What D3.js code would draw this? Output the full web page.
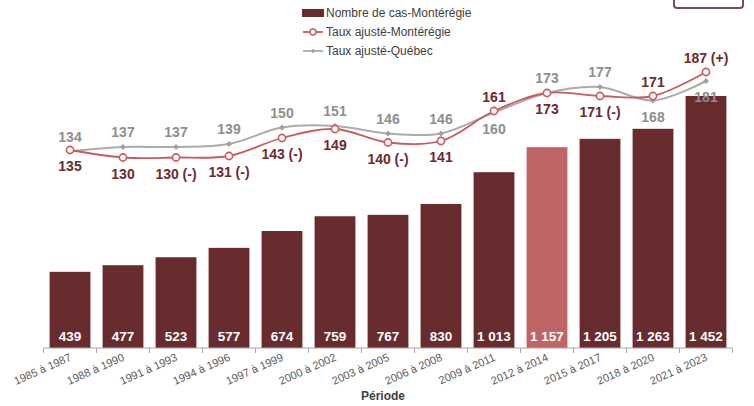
<!DOCTYPE html>
<html lang="fr">
<head>
<meta charset="utf-8">
<script src="https://cdn.jsdelivr.net/npm/d3@7"></script>
<style>
  body { margin: 0; background: #fff; }
  svg { display: block; font-family: "Liberation Sans", Arial, sans-serif; }
</style>
</head>
<body>
<div id="chart"></div>
<script>
// Données
const periodes = ['1985 à 1987', '1988 à 1990', '1991 à 1993', '1994 à 1996', '1997 à 1999',
  '2000 à 2002', '2003 à 2005', '2006 à 2008', '2009 à 2011', '2012 à 2014',
  '2015 à 2017', '2018 à 2020', '2021 à 2023'];
const nbCas = [439, 477, 523, 577, 674, 759, 767, 830, 1013, 1157, 1205, 1263, 1452];
const tauxMonteregie = [135, 130, 130, 131, 143, 149, 140, 141, 161, 173, 171, 171, 187];
const signifMonteregie = ['', '', ' (-)', ' (-)', ' (-)', '', ' (-)', '', '', '', ' (-)', '', ' (+)'];
const tauxQuebec = [134, 137, 137, 139, 150, 151, 146, 146, 160, 173, 177, 168, 181];
const periodeEnEvidence = '2012 à 2014';

// Position des étiquettes (au-dessus / en dessous)
const posMonteregie = ['bas', 'bas', 'bas', 'bas', 'bas', 'bas', 'bas', 'bas', 'haut', 'bas', 'bas', 'haut', 'haut'];
const posQuebec = ['haut', 'haut', 'haut', 'haut', 'haut', 'haut', 'haut', 'haut', 'bas', 'haut', 'haut', 'bas', 'bas'];

const W = 754, H = 406;
const couleurBarre = '#682B2E';
const couleurEvidence = '#C06565';
const couleurMont = '#C85C5C';
const couleurQc = '#ABABAB';

const fr = d3.formatLocale({ decimal: ',', thousands: '\u00a0', grouping: [3], currency: ['', ' $'] });
const fmt = fr.format(',d');

const svg = d3.select('#chart').append('svg')
  .attr('width', W)
  .attr('height', H);

// Échelles
const x = d3.scaleBand()
  .domain(periodes)
  .range([43.5, 732.5])
  .paddingInner(0.23)
  .paddingOuter(0.115);

const yCas = d3.scaleLinear()
  .domain([0, 1452])
  .range([348, 96]);

const yTaux = d3.scaleLinear()
  .domain([100, 200])
  .range([202.5, 52.5]);

// Barres
svg.selectAll('.barre')
  .data(periodes)
  .enter()
  .append('rect')
  .attr('x', d => x(d))
  .attr('y', (d, i) => yCas(nbCas[i]))
  .attr('width', x.bandwidth())
  .attr('height', (d, i) => yCas(0) - yCas(nbCas[i]))
  .attr('fill', d => d === periodeEnEvidence ? couleurEvidence : couleurBarre);

svg.selectAll('.val-barre')
  .data(periodes)
  .enter()
  .append('text')
  .attr('x', d => x(d) + x.bandwidth() / 2)
  .attr('y', 341)
  .attr('text-anchor', 'middle')
  .attr('fill', '#fff')
  .attr('font-size', 13.5)
  .attr('font-weight', 'bold')
  .text((d, i) => fmt(nbCas[i]));

// Axe X
const axe = svg.append('g')
  .attr('transform', `translate(0,${yCas(0)})`);

axe.append('line')
  .attr('x1', x.range()[0]).attr('x2', x.range()[1])
  .attr('stroke', '#A6A6A6');

const bornes = periodes.map(d => x(d) - x.step() * x.paddingInner() / 2);
bornes.push(x.range()[1]);
axe.selectAll('.tick')
  .data(bornes)
  .enter()
  .append('line')
  .attr('x1', d => d).attr('x2', d => d)
  .attr('y1', 0).attr('y2', 5)
  .attr('stroke', '#A6A6A6');

axe.selectAll('.lbl')
  .data(periodes)
  .enter()
  .append('text')
  .attr('transform', d => `translate(${x(d) + x.bandwidth() / 2 + 2},${12}) rotate(-24)`)
  .attr('text-anchor', 'end')
  .attr('font-size', 11)
  .attr('fill', '#595959')
  .text(d => d);

svg.append('text')
  .attr('x', 383)
  .attr('y', 400)
  .attr('text-anchor', 'middle')
  .attr('font-size', 12)
  .attr('font-weight', 'bold')
  .attr('fill', '#404040')
  .text('Période');

// Lignes
const cx = d => x(d) + x.bandwidth() / 2;
const ligne = vals => d3.line()
  .x(d => cx(d))
  .y((d, i) => yTaux(vals[i]))
  .curve(d3.curveCatmullRom.alpha(0.5));

svg.append('path')
  .datum(periodes)
  .attr('d', ligne(tauxQuebec))
  .attr('fill', 'none')
  .attr('stroke', couleurQc)
  .attr('stroke-width', 2);

svg.append('path')
  .datum(periodes)
  .attr('d', ligne(tauxMonteregie))
  .attr('fill', 'none')
  .attr('stroke', couleurMont)
  .attr('stroke-width', 1.8);

svg.selectAll('.pt-qc')
  .data(periodes)
  .enter()
  .append('path')
  .attr('d', d3.symbol(d3.symbolDiamond2, 22))
  .attr('transform', (d, i) => `translate(${cx(d)},${yTaux(tauxQuebec[i])})`)
  .attr('fill', '#A0A0A0');

svg.selectAll('.pt-mont')
  .data(periodes)
  .enter()
  .append('circle')
  .attr('cx', d => cx(d))
  .attr('cy', (d, i) => yTaux(tauxMonteregie[i]))
  .attr('r', 3.6)
  .attr('fill', '#fff')
  .attr('stroke', couleurMont)
  .attr('stroke-width', 1.6);

// Étiquettes des taux
svg.selectAll('.lbl-qc')
  .data(periodes)
  .enter()
  .append('text')
  .attr('x', d => cx(d))
  .attr('y', (d, i) => yTaux(tauxQuebec[i]) + (posQuebec[i] === 'haut' ? -10 : 21))
  .attr('text-anchor', 'middle')
  .attr('font-size', 14)
  .attr('font-weight', 'bold')
  .attr('fill', '#8E8E8E')
  .text((d, i) => tauxQuebec[i]);

svg.selectAll('.lbl-mont')
  .data(periodes)
  .enter()
  .append('text')
  .attr('x', d => cx(d))
  .attr('y', (d, i) => yTaux(tauxMonteregie[i]) + (posMonteregie[i] === 'haut' ? -9 : 21))
  .attr('text-anchor', 'middle')
  .attr('font-size', 14)
  .attr('font-weight', 'bold')
  .attr('fill', '#6E2A2D')
  .text((d, i) => tauxMonteregie[i] + signifMonteregie[i]);

// Légende
const leg = svg.append('g').attr('font-size', 12).attr('fill', '#404040');
leg.append('rect').attr('x', 302).attr('y', 9).attr('width', 22).attr('height', 8).attr('fill', couleurBarre);
leg.append('text').attr('x', 326).attr('y', 17).text('Nombre de cas-Montérégie');

leg.append('line').attr('x1', 303).attr('x2', 323).attr('y1', 32).attr('y2', 32)
  .attr('stroke', couleurMont).attr('stroke-width', 1.8);
leg.append('circle').attr('cx', 313).attr('cy', 32).attr('r', 3).attr('fill', '#fff')
  .attr('stroke', couleurMont).attr('stroke-width', 1.4);
leg.append('text').attr('x', 326).attr('y', 36).text('Taux ajusté-Montérégie');

leg.append('line').attr('x1', 303).attr('x2', 323).attr('y1', 51).attr('y2', 51)
  .attr('stroke', couleurQc).attr('stroke-width', 1.8);
leg.append('path').attr('d', d3.symbol(d3.symbolDiamond2, 14))
  .attr('transform', 'translate(313,51)').attr('fill', '#A0A0A0');
leg.append('text').attr('x', 326).attr('y', 55).text('Taux ajusté-Québec');

// Cadre coupé en haut à droite
svg.append('rect')
  .attr('x', 674).attr('y', -30)
  .attr('width', 69).attr('height', 38)
  .attr('rx', 3)
  .attr('fill', 'none')
  .attr('stroke', '#7A4B52')
  .attr('stroke-width', 2);
</script>
</body>
</html>
